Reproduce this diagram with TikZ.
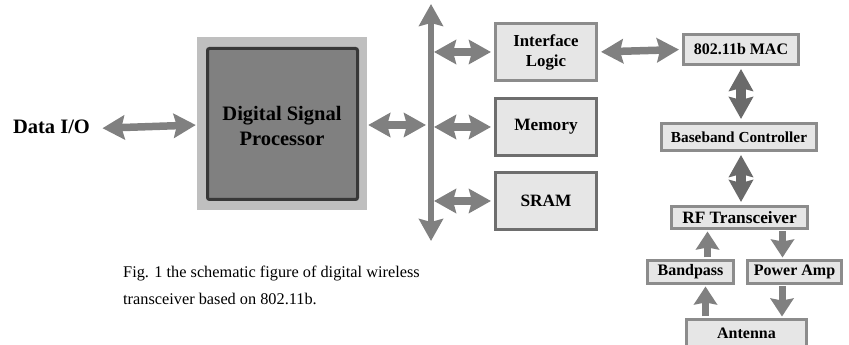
\documentclass[tikz,border=0pt]{standalone}
\usepackage{fontspec}
\setmainfont{Liberation Serif}
\usetikzlibrary{arrows.meta,positioning}

\definecolor{arrgray}{HTML}{808080}
\definecolor{arrdark}{HTML}{6A6A6A}
\definecolor{boxfill}{HTML}{E6E6E6}
\definecolor{boxline}{HTML}{8C8C8C}
\definecolor{boxdark}{HTML}{6E6E6E}

\tikzset{
  blk/.style={draw=boxline,fill=boxfill,line width=3pt,inner sep=0pt,align=center,
    font=\bfseries\fontsize{16}{20}\selectfont},
  bigblk/.style={blk,minimum width=101pt,minimum height=57pt,
    font=\bfseries\fontsize{17.3}{20}\selectfont},
  dblarr/.style={draw=arrgray,line width=7.5pt,
    {Stealth[width=24pt,length=22pt,inset=3pt]}-{Stealth[width=24pt,length=22pt,inset=3pt]}},
  onearr/.style={draw=arrgray,line width=7pt,-{Stealth[width=23pt,length=18pt,inset=2pt]}}
}

\begin{document}
\begin{tikzpicture}[x=1pt,y=1pt]
  \useasboundingbox (0,0) rectangle (849,345);

  % processor side
  \node[font=\bfseries\fontsize{20.5}{24}\selectfont] (dataio) at (51.5,218) {Data I/O};
  \node[fill=black!25,minimum width=170pt,minimum height=173pt] (dspouter) at (282,221.5) {};
  \node[draw=black!78,fill=arrgray,line width=3pt,rounded corners=2pt,
        minimum width=150pt,minimum height=151pt] (dsp) at (282.5,221) {};
  \node[font=\bfseries\fontsize{20.5}{25}\selectfont,align=center] (dsptext) at (282,219.5) {Digital Signal\\Processor};

  % bus
  \coordinate (busbot) at (431,104);
  \coordinate (bustop) at (431,341);
  \draw[dblarr,line width=6.5pt] (busbot) -- (bustop);

  \node[bigblk,font=\bfseries\fontsize{16.8}{20}\selectfont] (intf) at (546,293) {Interface\\Logic};
  \node[bigblk,draw=boxdark] (mem) at (546,218) {Memory};
  \node[bigblk,draw=boxdark] (sram) at (546,144) {SRAM};

  %dsp<>bus<>blocks
  \draw[dblarr,shorten <=9pt,shorten >=1pt] ([yshift=-1.5pt]dataio.east) -- ([yshift=-1.5pt]dspouter.west);
  \draw[dblarr,shorten <=1pt,shorten >=5pt] ([yshift=-1.5pt]dspouter.east) -- ([yshift=-1.5pt]dspouter.east -| bustop);
  \draw[dblarr,shorten <=3pt,shorten >=3pt] (intf.west -| bustop) -- (intf.west);
  \draw[dblarr,shorten <=3pt,shorten >=3pt] (mem.west -| bustop) -- (mem.west);
  \draw[dblarr,shorten <=3pt,shorten >=3pt] (sram.west -| bustop) -- (sram.west);

  % radio side
  \node[blk,minimum width=115pt,minimum height=30pt] (mac) at (741,295.5) {802.11b MAC};
  \node[blk,minimum width=155pt,minimum height=27pt,font=\bfseries\fontsize{15.3}{20}\selectfont] (bb) at (739,208) {Baseband Controller};
  \node[blk,minimum width=136pt,minimum height=22pt,font=\bfseries\fontsize{17.3}{20}\selectfont] (rf) at (739.5,127.5) {RF Transceiver};
  \node[blk,minimum width=86pt,minimum height=23pt] (bp) at (690.5,73) {Bandpass};
  \node[blk,minimum width=94pt,minimum height=23pt] (pa) at (794.5,73) {Power Amp};
  \node[blk,minimum width=120pt,minimum height=27pt] (ant) at (746.5,12) {Antenna};

  %mac>bb>rf
  \draw[dblarr,shorten <=3pt,shorten >=3pt] (intf.east) -- (mac.west);
  \draw[dblarr,draw=arrdark,line width=9.5pt,shorten <=3pt,shorten >=3pt] (mac.south) -- (mac.south |- bb.north);
  \draw[dblarr,draw=arrdark,line width=9.5pt,shorten <=3pt,shorten >=3pt] (mac.south |- bb.south) -- (mac.south |- rf.north);

  %rf<>amp
  \draw[onearr,shorten <=1.5pt,shorten >=1.5pt] ([xshift=17pt]bp.north) -- ([xshift=17pt]bp.north |- rf.south);
  \draw[onearr,shorten <=1.5pt,shorten >=1.5pt] ([xshift=-12pt]pa.north |- rf.south) -- ([xshift=-12pt]pa.north);
  \draw[onearr,shorten <=1.5pt,shorten >=1.5pt] ([xshift=15pt]bp.south |- ant.north) -- ([xshift=15pt]bp.south);
  \draw[onearr,shorten <=1.5pt,shorten >=1.5pt] ([xshift=-12.5pt]pa.south) -- ([xshift=-12.5pt]pa.south |- ant.north);

  % caption
  \node[anchor=west,align=left,inner sep=0pt,font=\fontsize{16.3}{27}\selectfont] (caption) at (123,59.5)
    {Fig. 1 the schematic figure of digital wireless\\transceiver based on 802.11b.};
\end{tikzpicture}
\end{document}
